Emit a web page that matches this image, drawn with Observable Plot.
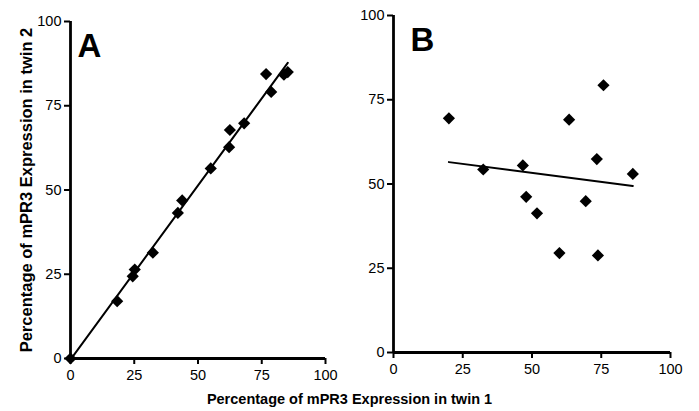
<!DOCTYPE html>
<html>
<head>
<meta charset="utf-8">
<script src="https://cdn.jsdelivr.net/npm/d3@7"></script>
<script src="https://cdn.jsdelivr.net/npm/@observablehq/plot@0.6"></script>
<style>
  html, body { margin: 0; padding: 0; background: #fff; }
  #wrap { position: relative; width: 699px; height: 411px; overflow: hidden; font-family: "Liberation Sans", Arial, sans-serif; }
  .panel { position: absolute; top: 0; }
  .panel g[aria-label$="tick label"], .panel g[aria-label$="tick label"] text { font-size: 14.5px !important; font-family: "Liberation Sans", Arial, sans-serif !important; }
  .ylab { position: absolute; width: 340px; height: 20px; line-height: 20px; text-align: center; font-weight: bold; font-size: 16.5px; transform: rotate(-90deg); white-space: nowrap; }
  .xlab { position: absolute; width: 699px; left: 0; height: 18px; line-height: 18px; text-align: center; font-weight: bold; font-size: 14.5px; white-space: nowrap; }
</style>
</head>
<body>
<div id="wrap"></div>
<script>
// Panel A: twin pairs (concordant)
const aTwin1 = [0, 18.3, 24.4, 25.2, 32.3, 42.1, 43.8, 55.0, 62.2, 62.5, 68.1, 76.7, 78.7, 83.7, 85.2];
const aTwin2 = [0, 17.0, 24.4, 26.4, 31.4, 43.2, 46.9, 56.4, 62.7, 67.8, 69.8, 84.4, 79.1, 84.2, 85.0];
// Panel B: unrelated pairs
const bTwin1 = [20.0, 32.4, 46.7, 47.9, 51.8, 59.9, 63.4, 69.4, 73.4, 73.8, 75.8, 86.4];
const bTwin2 = [69.5, 54.3, 55.5, 46.2, 41.3, 29.5, 69.1, 44.9, 57.4, 28.8, 79.3, 53.0];
const ticks = [0, 25, 50, 75, 100];
const panelLetters = ["A", "B"];
const xTitle = "Percentage of mPR3 Expression in twin 1";
const yTitle = "Percentage of mPR3 Expression in twin 2";

const rows = (xs, ys) => xs.map((x, i) => ({x, y: ys[i]}));

function panel(data, letter, opts) {
  return Plot.plot({
    width: opts.width,
    height: 390,
    marginLeft: opts.ml,
    marginRight: opts.mr,
    marginTop: opts.mt,
    marginBottom: 390 - opts.y0,
    style: {fontFamily: "Liberation Sans, Arial, sans-serif", fontSize: "15px", color: "#000", background: "transparent"},
    x: {domain: [0, 100]},
    y: {domain: [0, 100]},
    marks: [
      Plot.axisX({ticks, tickSize: 6, tickPadding: 5, strokeWidth: 2, label: null}),
      Plot.axisY({ticks, tickSize: 6, tickPadding: 3, strokeWidth: 2, label: null}),
      Plot.ruleY([0], {stroke: "#000", strokeWidth: 2.8}),
      Plot.ruleX([0], {stroke: "#000", strokeWidth: 2.8}),
      Plot.linearRegressionY(data, {x: "x", y: "y", ci: 0, stroke: "#000", strokeWidth: 2}),
      Plot.dot(data, {x: "x", y: "y", symbol: "diamond2", r: 5.5, fill: "#000", stroke: "none"}),
      Plot.text([letter], {frameAnchor: "top-left", textAnchor: "start", lineAnchor: "top", dx: opts.ldx, dy: 12, fontSize: 33, fontWeight: "bold", fill: "#000"})
    ]
  });
}

const wrap = document.getElementById("wrap");
const a = panel(rows(aTwin1, aTwin2), panelLetters[0], {width: 345, ml: 70, mr: 20, mt: 21, y0: 358, ldx: 7});
a.classList.add("panel"); a.style.left = "0px";
wrap.appendChild(a);
const b = panel(rows(bTwin1, bTwin2), panelLetters[1], {width: 354, ml: 48, mr: 29, mt: 15, y0: 352, ldx: 17});
b.classList.add("panel"); b.style.left = "345px";
wrap.appendChild(b);

const yl = document.createElement("div");
yl.className = "ylab"; yl.textContent = yTitle;
yl.style.left = (26 - 170) + "px"; yl.style.top = (190 - 10) + "px";
wrap.appendChild(yl);

const xl = document.createElement("div");
xl.className = "xlab"; xl.textContent = xTitle;
xl.style.top = "390px";
wrap.appendChild(xl);
</script>
</body>
</html>
